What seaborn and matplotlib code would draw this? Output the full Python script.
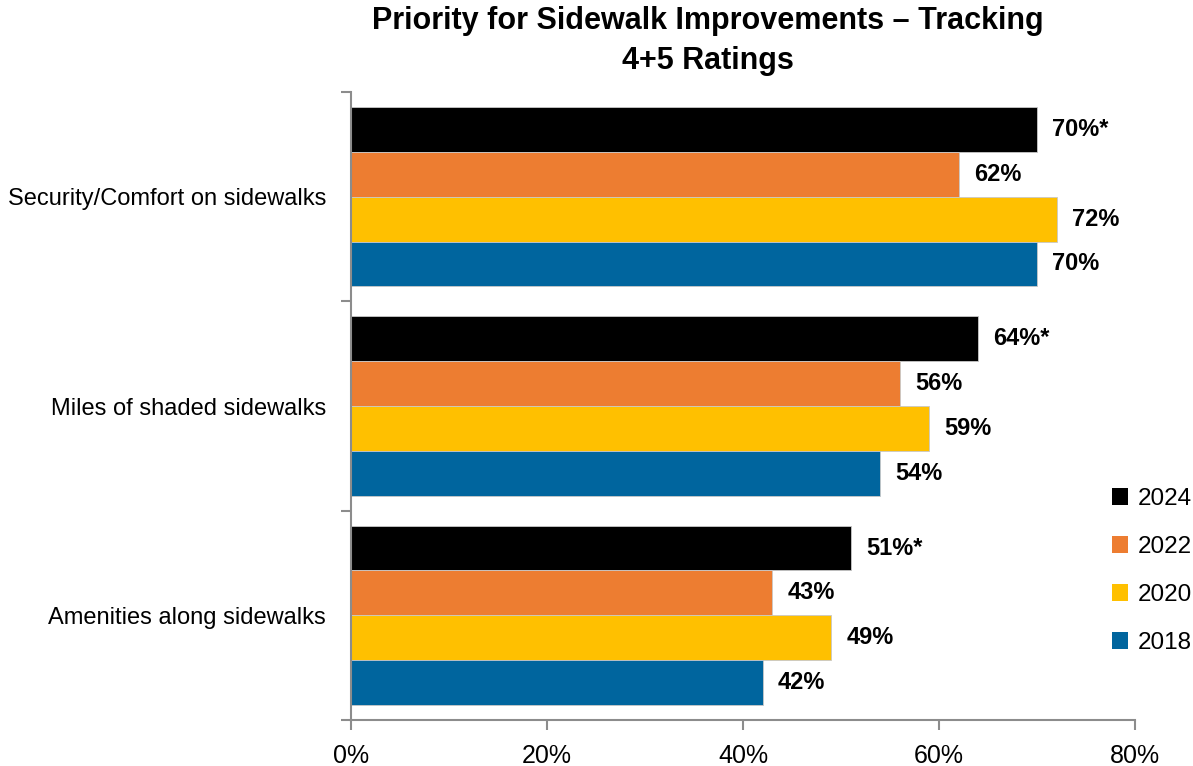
import matplotlib
matplotlib.use("Agg")
import matplotlib.pyplot as plt
from matplotlib.patches import Patch
from matplotlib.ticker import FixedLocator, PercentFormatter
import seaborn as sns
import pandas as pd

# Survey tracking data (share rating 4 or 5)
categories = ["Security/Comfort on sidewalks", "Miles of shaded sidewalks", "Amenities along sidewalks"]
years = ["2024", "2022", "2020", "2018"]
vals_2024 = [70, 64, 51]
vals_2022 = [62, 56, 43]
vals_2020 = [72, 59, 49]
vals_2018 = [70, 54, 42]
label_suffix = {"2024": "*", "2022": "", "2020": "", "2018": ""}
colors = ["#000000", "#ED7D31", "#FFC000", "#00659E"]

series = {"2024": vals_2024, "2022": vals_2022, "2020": vals_2020, "2018": vals_2018}
rows = []
for y in years:
    for c, v in zip(categories, series[y]):
        rows.append({"Category": c, "Year": y, "Value": v})
df = pd.DataFrame(rows)

sns.set_theme(style="white")
font = ["Liberation Sans", "DejaVu Sans"]
plt.rcParams["font.family"] = font
plt.rcParams["text.color"] = "black"
plt.rcParams["xtick.color"] = "#8c8c8c"
plt.rcParams["ytick.color"] = "#8c8c8c"
plt.rcParams["xtick.labelcolor"] = "black"
plt.rcParams["ytick.labelcolor"] = "black"

fig = plt.figure(figsize=(11.93, 7.66), dpi=100)
ax = fig.add_axes([351 / 1193, 1 - 720 / 766, (1135 - 351) / 1193, (720 - 92) / 766])

sns.barplot(data=df, y="Category", x="Value", hue="Year", hue_order=years,
            order=categories, palette=colors, saturation=1, orient="h", width=0.857,
            edgecolor="#c8c8c8", linewidth=0.6, ax=ax, legend=False)

for cont, y in zip(ax.containers, years):
    labels = [f"{int(v)}%{label_suffix[y]}" for v in series[y]]
    ax.bar_label(cont, labels=labels, padding=11, fontsize=17, fontweight="bold",
                 color="black")

ax.set_xlim(0, 80)
ax.set_ylim(2.5, -0.5)
ax.xaxis.set_major_locator(FixedLocator([0, 20, 40, 60, 80]))
ax.xaxis.set_major_formatter(PercentFormatter(decimals=0))
ax.set_xlabel("")
ax.set_ylabel("")

ax.yaxis.set_minor_locator(FixedLocator([-0.5, 0.5, 1.5, 2.5]))
ax.tick_params(axis="y", which="major", length=0, pad=18, labelsize=17)
ax.tick_params(axis="y", which="minor", length=7, width=1.5, left=True)
ax.tick_params(axis="x", which="major", length=7, width=1.5,
               bottom=True, pad=10, labelsize=18)

for side in ["top", "right"]:
    ax.spines[side].set_visible(False)
for side in ["left", "bottom"]:
    ax.spines[side].set_color("#8c8c8c")
    ax.spines[side].set_linewidth(1.5)

fig.text(708 / 1193, 1 - 41 / 766,
         "Priority for Sidewalk Improvements \u2013 Tracking\n4+5 Ratings",
         ha="center", va="center", fontsize=22, fontweight="bold", linespacing=1.45)

handles = [Patch(facecolor=c, edgecolor="none", label=y) for c, y in zip(colors, years)]
fig.legend(handles=handles, loc="upper left", bbox_to_anchor=(1112 / 1193, 1 - 488 / 766),
           frameon=False, borderpad=0, borderaxespad=0, handlelength=0.65,
           handleheight=0.65, handletextpad=0.4, labelspacing=1.07, prop={"size": 17.5})

fig.savefig("out.png", dpi=100)
